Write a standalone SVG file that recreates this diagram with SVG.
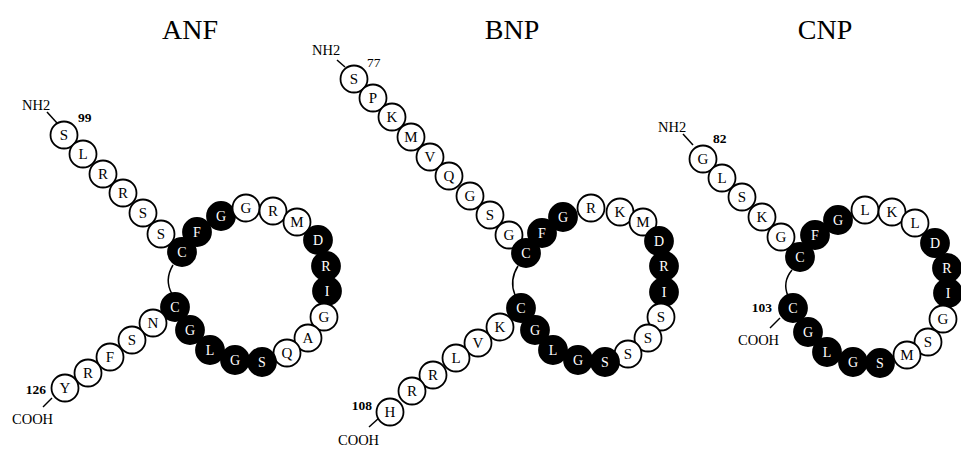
<svg xmlns="http://www.w3.org/2000/svg" width="961" height="453" viewBox="0 0 961 453">
<style>
text{font-family:"Liberation Serif","Times New Roman",serif;}
.t{font-size:28px;text-anchor:middle;fill:#000}
.lab{font-size:14.5px;fill:#000}
.num{font-size:13.5px;font-weight:bold;fill:#000}
.w circle{fill:#fff;stroke:#000;stroke-width:1.8}
.b circle{fill:#000;stroke:#000;stroke-width:1.8}
.w text{font-size:15px;text-anchor:middle;fill:#000}
.b text{font-size:14px;text-anchor:middle;fill:#fff}
.ln{fill:none;stroke:#000;stroke-width:1.5}
</style>
<rect width="961" height="453" fill="#fff"/>
<text class="t" x="190" y="39">ANF</text>
<text class="t" x="512" y="39">BNP</text>
<text class="t" x="825" y="39">CNP</text>

<g id="connectors">
<path class="ln" d="M47,112 L57,123"/>
<path class="ln" d="M52,398 L43,407"/>
<path class="ln" d="M173,265 Q164,280 172,294"/>
<path class="ln" d="M337,60 L345,67"/>
<path class="ln" d="M379,418 L369,427"/>
<path class="ln" d="M518,266 Q509,280 515,295"/>
<path class="ln" d="M683,134 L693,145"/>
<path class="ln" d="M780,318 L770,328"/>
<path class="ln" d="M792,270 Q782,282 788,296"/>
</g>

<g id="anf-labels">
<text class="lab" x="22" y="110">NH2</text>
<text class="num" x="78" y="122">99</text>
<text class="num" x="46" y="394" text-anchor="end">126</text>
<text class="lab" x="12" y="424">COOH</text>
</g>
<g id="bnp-labels">
<text class="lab" x="312" y="55">NH2</text>
<text class="lab" x="367" y="67" style="font-size:13.5px">77</text>
<text class="num" x="372" y="410" text-anchor="end">108</text>
<text class="lab" x="338" y="445">COOH</text>
</g>
<g id="cnp-labels">
<text class="lab" x="658" y="132">NH2</text>
<text class="num" x="713" y="143">82</text>
<text class="num" x="772" y="312" text-anchor="end">103</text>
<text class="lab" x="738" y="345">COOH</text>
</g>

<g id="anf">
<g id="anf-99" class="w"><circle cx="64" cy="135" r="13.5"/><text x="64" y="140">S</text></g>
<g id="anf-100" class="w"><circle cx="83" cy="154" r="13.5"/><text x="83" y="159">L</text></g>
<g id="anf-101" class="w"><circle cx="103" cy="174" r="13.5"/><text x="103" y="179">R</text></g>
<g id="anf-102" class="w"><circle cx="123" cy="193" r="13.5"/><text x="123" y="198">R</text></g>
<g id="anf-103" class="w"><circle cx="143" cy="213" r="13.5"/><text x="143" y="218">S</text></g>
<g id="anf-104" class="w"><circle cx="161" cy="234" r="13.5"/><text x="161" y="239">S</text></g>
<g id="anf-105" class="b"><circle cx="182" cy="252" r="14"/><text x="182" y="257">C</text></g>
<g id="anf-106" class="b"><circle cx="197" cy="232" r="14"/><text x="197" y="237">F</text></g>
<g id="anf-107" class="b"><circle cx="221" cy="216" r="14"/><text x="221" y="221">G</text></g>
<g id="anf-108" class="w"><circle cx="246" cy="208" r="13.5"/><text x="246" y="213">G</text></g>
<g id="anf-109" class="w"><circle cx="273" cy="211" r="13.5"/><text x="273" y="216">R</text></g>
<g id="anf-110" class="w"><circle cx="297" cy="222" r="13.5"/><text x="297" y="227">M</text></g>
<g id="anf-111" class="b"><circle cx="318" cy="240" r="14"/><text x="318" y="245">D</text></g>
<g id="anf-112" class="b"><circle cx="326" cy="266" r="14"/><text x="326" y="271">R</text></g>
<g id="anf-113" class="b"><circle cx="327" cy="291" r="14"/><text x="327" y="296">I</text></g>
<g id="anf-114" class="w"><circle cx="324" cy="317" r="13.5"/><text x="324" y="322">G</text></g>
<g id="anf-115" class="w"><circle cx="308" cy="338" r="13.5"/><text x="308" y="343">A</text></g>
<g id="anf-116" class="w"><circle cx="287" cy="353" r="13.5"/><text x="287" y="358">Q</text></g>
<g id="anf-117" class="b"><circle cx="262" cy="362" r="14"/><text x="262" y="367">S</text></g>
<g id="anf-118" class="b"><circle cx="235" cy="360" r="14"/><text x="235" y="365">G</text></g>
<g id="anf-119" class="b"><circle cx="210" cy="350" r="14"/><text x="210" y="355">L</text></g>
<g id="anf-120" class="b"><circle cx="190" cy="330" r="14"/><text x="190" y="335">G</text></g>
<g id="anf-121" class="b"><circle cx="175" cy="307" r="14"/><text x="175" y="312">C</text></g>
<g id="anf-122" class="w"><circle cx="153" cy="323" r="13.5"/><text x="153" y="328">N</text></g>
<g id="anf-123" class="w"><circle cx="132" cy="340" r="13.5"/><text x="132" y="345">S</text></g>
<g id="anf-124" class="w"><circle cx="110" cy="357" r="13.5"/><text x="110" y="362">F</text></g>
<g id="anf-125" class="w"><circle cx="88" cy="373" r="13.5"/><text x="88" y="378">R</text></g>
<g id="anf-126" class="w"><circle cx="65" cy="388" r="13.5"/><text x="65" y="393">Y</text></g>
</g>

<g id="bnp">
<g id="bnp-77" class="w"><circle cx="354" cy="79" r="13.5"/><text x="354" y="84">S</text></g>
<g id="bnp-78" class="w"><circle cx="373" cy="98" r="13.5"/><text x="373" y="103">P</text></g>
<g id="bnp-79" class="w"><circle cx="392" cy="117" r="13.5"/><text x="392" y="122">K</text></g>
<g id="bnp-80" class="w"><circle cx="411" cy="137" r="13.5"/><text x="411" y="142">M</text></g>
<g id="bnp-81" class="w"><circle cx="430" cy="157" r="13.5"/><text x="430" y="162">V</text></g>
<g id="bnp-82" class="w"><circle cx="449" cy="176" r="13.5"/><text x="449" y="181">Q</text></g>
<g id="bnp-83" class="w"><circle cx="470" cy="196" r="13.5"/><text x="470" y="201">G</text></g>
<g id="bnp-84" class="w"><circle cx="490" cy="215" r="13.5"/><text x="490" y="220">S</text></g>
<g id="bnp-85" class="w"><circle cx="509" cy="235" r="13.5"/><text x="509" y="240">G</text></g>
<g id="bnp-86" class="b"><circle cx="526" cy="253" r="14"/><text x="526" y="258">C</text></g>
<g id="bnp-87" class="b"><circle cx="542" cy="233" r="14"/><text x="542" y="238">F</text></g>
<g id="bnp-88" class="b"><circle cx="563" cy="217" r="14"/><text x="563" y="222">G</text></g>
<g id="bnp-89" class="w"><circle cx="591" cy="208" r="13.5"/><text x="591" y="213">R</text></g>
<g id="bnp-90" class="w"><circle cx="620" cy="212" r="13.5"/><text x="620" y="217">K</text></g>
<g id="bnp-91" class="w"><circle cx="643" cy="222" r="13.5"/><text x="643" y="227">M</text></g>
<g id="bnp-92" class="b"><circle cx="659" cy="241" r="14"/><text x="659" y="246">D</text></g>
<g id="bnp-93" class="b"><circle cx="664" cy="266" r="14"/><text x="664" y="271">R</text></g>
<g id="bnp-94" class="b"><circle cx="664" cy="292" r="14"/><text x="664" y="297">I</text></g>
<g id="bnp-95" class="w"><circle cx="661" cy="317" r="13.5"/><text x="661" y="322">S</text></g>
<g id="bnp-96" class="w"><circle cx="648" cy="338" r="13.5"/><text x="648" y="343">S</text></g>
<g id="bnp-97" class="w"><circle cx="628" cy="354" r="13.5"/><text x="628" y="359">S</text></g>
<g id="bnp-98" class="b"><circle cx="605" cy="362" r="14"/><text x="605" y="367">S</text></g>
<g id="bnp-99" class="b"><circle cx="578" cy="360" r="14"/><text x="578" y="365">G</text></g>
<g id="bnp-100" class="b"><circle cx="553" cy="350" r="14"/><text x="553" y="355">L</text></g>
<g id="bnp-101" class="b"><circle cx="535" cy="330" r="14"/><text x="535" y="335">G</text></g>
<g id="bnp-102" class="b"><circle cx="521" cy="308" r="14"/><text x="521" y="313">C</text></g>
<g id="bnp-103" class="w"><circle cx="500" cy="327" r="13.5"/><text x="500" y="332">K</text></g>
<g id="bnp-104" class="w"><circle cx="478" cy="343" r="13.5"/><text x="478" y="348">V</text></g>
<g id="bnp-105" class="w"><circle cx="456" cy="358" r="13.5"/><text x="456" y="363">L</text></g>
<g id="bnp-106" class="w"><circle cx="433" cy="375" r="13.5"/><text x="433" y="380">R</text></g>
<g id="bnp-107" class="w"><circle cx="412" cy="391" r="13.5"/><text x="412" y="396">R</text></g>
<g id="bnp-108" class="w"><circle cx="390" cy="412" r="13.5"/><text x="390" y="417">H</text></g>
</g>

<g id="cnp">
<g id="cnp-82" class="w"><circle cx="703" cy="159" r="13.5"/><text x="703" y="164">G</text></g>
<g id="cnp-83" class="w"><circle cx="722" cy="178" r="13.5"/><text x="722" y="183">L</text></g>
<g id="cnp-84" class="w"><circle cx="742" cy="197" r="13.5"/><text x="742" y="202">S</text></g>
<g id="cnp-85" class="w"><circle cx="762" cy="217" r="13.5"/><text x="762" y="222">K</text></g>
<g id="cnp-86" class="w"><circle cx="781" cy="237" r="13.5"/><text x="781" y="242">G</text></g>
<g id="cnp-87" class="b"><circle cx="800" cy="257" r="14"/><text x="800" y="262">C</text></g>
<g id="cnp-88" class="b"><circle cx="815" cy="235" r="14"/><text x="815" y="240">F</text></g>
<g id="cnp-89" class="b"><circle cx="838" cy="220" r="14"/><text x="838" y="225">G</text></g>
<g id="cnp-90" class="w"><circle cx="865" cy="210" r="13.5"/><text x="865" y="215">L</text></g>
<g id="cnp-91" class="w"><circle cx="892" cy="212" r="13.5"/><text x="892" y="217">K</text></g>
<g id="cnp-92" class="w"><circle cx="915" cy="223" r="13.5"/><text x="915" y="228">L</text></g>
<g id="cnp-93" class="b"><circle cx="935" cy="243" r="14"/><text x="935" y="248">D</text></g>
<g id="cnp-94" class="b"><circle cx="947" cy="268" r="14"/><text x="947" y="273">R</text></g>
<g id="cnp-95" class="b"><circle cx="948" cy="293" r="14"/><text x="948" y="298">I</text></g>
<g id="cnp-96" class="w"><circle cx="943" cy="319" r="13.5"/><text x="943" y="324">G</text></g>
<g id="cnp-97" class="w"><circle cx="928" cy="342" r="13.5"/><text x="928" y="347">S</text></g>
<g id="cnp-98" class="w"><circle cx="907" cy="355" r="13.5"/><text x="907" y="360">M</text></g>
<g id="cnp-99" class="b"><circle cx="880" cy="363" r="14"/><text x="880" y="368">S</text></g>
<g id="cnp-100" class="b"><circle cx="853" cy="362" r="14"/><text x="853" y="367">G</text></g>
<g id="cnp-101" class="b"><circle cx="827" cy="352" r="14"/><text x="827" y="357">L</text></g>
<g id="cnp-102" class="b"><circle cx="808" cy="332" r="14"/><text x="808" y="337">G</text></g>
<g id="cnp-103" class="b"><circle cx="793" cy="308" r="14"/><text x="793" y="313">C</text></g>
</g>
</svg>
